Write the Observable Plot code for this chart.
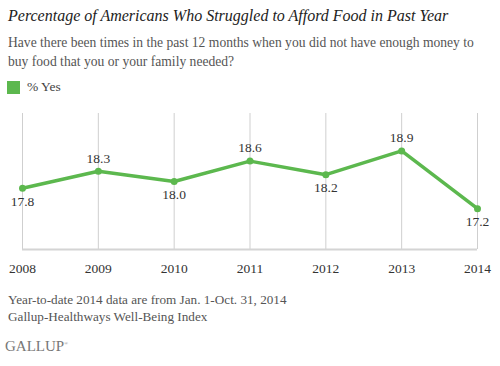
<!DOCTYPE html>
<html>
<head>
<meta charset="utf-8">
<script src="https://cdn.jsdelivr.net/npm/d3@7"></script>
<script src="https://cdn.jsdelivr.net/npm/@observablehq/plot@0.6"></script>
<style>
  html, body { margin: 0; padding: 0; background: #fff; }
  body { width: 500px; height: 366px; position: relative; overflow: hidden; font-family: "Liberation Serif", serif; }
  .t { position: absolute; left: 8px; white-space: nowrap; }
  #title { top: 7px; font-style: italic; font-size: 16px; color: #222; }
  #sub { top: 33px; font-size: 13.6px; line-height: 19px; color: #555; white-space: normal; width: 485px; }
  #legend { top: 79px; left: 7px; font-size: 13.5px; color: #444; display: flex; align-items: center; }
  #legend .sw { width: 13px; height: 13px; background: #5cb84e; margin-right: 7px; }
  #chart { position: absolute; left: 0; top: 100px; }
  #cap { top: 291px; font-size: 13.2px; line-height: 17px; color: #555; }
  #logo { top: 338px; left: 5px; color: #777; font-size: 15px; }
</style>
</head>
<body>
<div class="t" id="title">Percentage of Americans Who Struggled to Afford Food in Past Year</div>
<div class="t" id="sub">Have there been times in the past 12 months when you did not have enough money to buy food that you or your family needed?</div>
<div class="t" id="legend"><span class="sw"></span><span>% Yes</span></div>
<div id="chart"></div>
<div class="t" id="cap">Year-to-date 2014 data are from Jan. 1-Oct. 31, 2014<br>Gallup-Healthways Well-Being Index</div>
<div class="t" id="logo">GALLUP<sup style="font-size:5px">&reg;</sup></div>
<script>
const years = [2008, 2009, 2010, 2011, 2012, 2013, 2014];
const yesPct = [17.8, 18.3, 18.0, 18.6, 18.2, 18.9, 17.2];
const labelAbove = [false, true, false, true, false, true, false];
const yMin = 16, yMax = 20;

const data = years.map((year, i) => ({year, value: yesPct[i], above: labelAbove[i]}));
const green = "#5cb84e";

const chart = Plot.plot({
  width: 500,
  height: 180,
  marginTop: 13,
  marginBottom: 31,
  marginLeft: 22,
  marginRight: 23,
  style: {fontFamily: "Liberation Serif, serif", fontSize: "13.5px", color: "#333", background: "transparent"},
  x: {domain: [2008, 2014], ticks: years, tickFormat: d => String(d), label: null},
  y: {domain: [yMin, yMax], axis: null},
  marks: [
    Plot.ruleX(years, {x: d => d, y1: yMin, y2: yMax, stroke: "#cfcfcf", strokeWidth: 1}),
    Plot.ruleY([yMin], {stroke: "#d4d4d4", strokeWidth: 2}),
    Plot.axisX({ticks: years, tickFormat: d => String(d), tickSize: 0, tickPadding: 14, fontSize: 13.5, fill: "#333"}),
    Plot.line(data, {x: "year", y: "value", stroke: green, strokeWidth: 3.5}),
    Plot.dot(data, {x: "year", y: "value", fill: green, r: 3.5}),
    Plot.text(data.filter(d => d.above), {x: "year", y: "value", text: d => d.value.toFixed(1), dy: -13, fill: "#333", fontSize: 13.5}),
    Plot.text(data.filter(d => !d.above), {x: "year", y: "value", text: d => d.value.toFixed(1), dy: 13, fill: "#333", fontSize: 13.5})
  ]
});
document.getElementById("chart").appendChild(chart);
</script>
</body>
</html>
